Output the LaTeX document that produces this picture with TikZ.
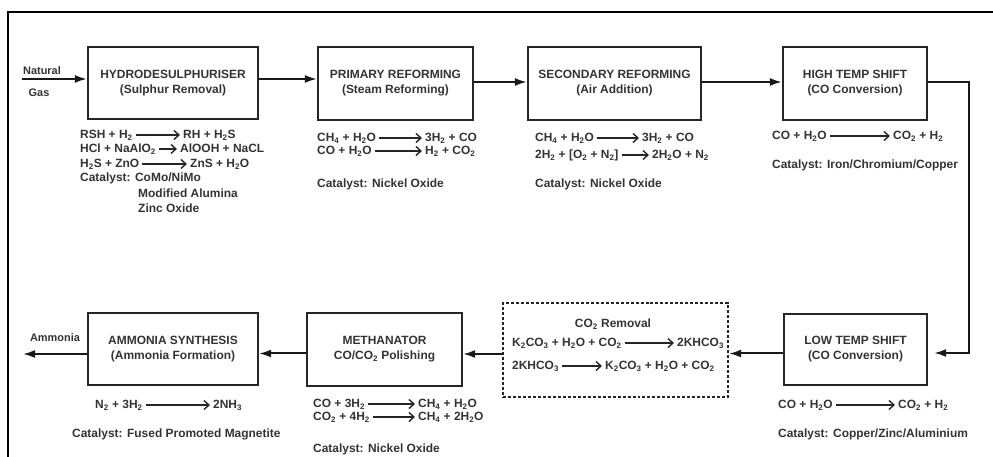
\documentclass[tikz,border=0pt]{standalone}
\usepackage{fontspec}
\setmainfont{Liberation Sans}
\usetikzlibrary{arrows.meta}
\newcommand\sub[1]{\textsubscript{#1}}
\newcommand\myrxn[6]{%
  \node[txt] (#1r) at (#2,#4) {#5};
  \node[txt] (#1p) at (#3,#4) {#6};
  \draw[eqarr] (#1r) -- (#1p);
}
\begin{document}
\begin{tikzpicture}[x=1bp,y=-1bp,
  every node/.style={font=\fontsize{12}{15}\selectfont\bfseries, text=black!80},
  proc/.style={draw=black!85, line width=2.2bp, inner sep=0pt, align=center},
  conn/.style={line width=2bp, draw=black!90, -{Latex[length=12bp,width=8bp]}},
  txt/.style={anchor=west, inner sep=0pt, text height=9bp, text depth=2.5bp},
  eqarr/.style={line width=1.4bp, draw=black!85, -{Straight Barb[length=5bp,width=9bp]}, shorten <=3bp, shorten >=3bp},
  lbl/.style={inner sep=0pt, font=\fontsize{11}{13}\selectfont\bfseries}
]
\useasboundingbox (0,0) rectangle (993,457);
\draw[line width=1.6bp] (8,457) -- (8,12) -- (993,12);

% process boxes
\node[proc, minimum width=170bp, minimum height=72bp] (hds) at (173,83) {HYDRODESULPHURISER\\(Sulphur Removal)};
\node[proc, minimum width=155bp, minimum height=73bp] (prim) at (395.5,83.5) {PRIMARY REFORMING\\(Steam Reforming)};
\node[proc, minimum width=173bp, minimum height=73bp] (sec) at (614.5,83.5) {SECONDARY REFORMING\\(Air Addition)};
\node[proc, minimum width=144bp, minimum height=73bp] (hts) at (855,83.5) {HIGH TEMP SHIFT\\(CO Conversion)};
\node[proc, minimum width=143bp, minimum height=71bp] (lts) at (855.5,349.5) {LOW TEMP SHIFT\\(CO Conversion)};
\node[proc, densely dashed, minimum width=225bp, minimum height=94bp] (co2) at (615.5,350) {};
\node[proc, minimum width=155bp, minimum height=73bp] (meth) at (384.5,349.5) {METHANATOR\\CO/CO\sub{2} Polishing};
\node[proc, minimum width=170bp, minimum height=72bp] (amm) at (173,349) {AMMONIA SYNTHESIS\\(Ammonia Formation)};

% connectors
\coordinate (ngin) at (22,79);
\node[lbl] (natural) at (42,71) {Natural};
\node[lbl] (gas) at (39,93) {Gas};
\draw[conn] (ngin) -- (ngin -| hds.west);
\draw[conn] ([yshift=4bp]hds.east) -- ([yshift=4bp]hds.east -| prim.west);
\draw[conn] ([yshift=1.5bp]prim.east) -- ([yshift=1.5bp]prim.east -| sec.west);
\draw[conn] ([yshift=1.5bp]sec.east) -- ([yshift=1.5bp]sec.east -| hts.west);
\coordinate (rt) at (969,0);
\draw[conn, shorten >=6bp] ([yshift=1.5bp]hts.east) -| ([yshift=-3.5bp]lts.east -| rt) -- ([yshift=-3.5bp]lts.east);
\draw[conn] ([yshift=-4bp]lts.west) -- ([yshift=-4bp]lts.west -| co2.east);
\draw[conn] ([yshift=-4bp]co2.west) -- ([yshift=-4bp]co2.west -| meth.east);
\draw[conn] ([yshift=-4bp]meth.west) -- ([yshift=-4bp]meth.west -| amm.east);
\coordinate (ammout) at (23,354);
\node[lbl] (ammonia) at (55,338) {Ammonia};
\draw[conn] (amm.west |- ammout) -- (ammout);

% hydrodesulphuriser
\myrxn{ha}{80}{183}{135}{RSH + H\sub{2}}{RH + H\sub{2}S}
\myrxn{hb}{80}{180}{149}{HCl + NaAlO\sub{2}}{AlOOH + NaCL}
\myrxn{hc}{80}{190}{164}{H\sub{2}S + ZnO}{ZnS + H\sub{2}O}
\node[txt] (hcat1) at (80,178) {Catalyst: CoMo/NiMo};
\node[txt] (hcat2) at (138,194) {Modified Alumina};
\node[txt] (hcat3) at (138,209) {Zinc Oxide};

% primary reforming
\myrxn{pa}{317}{425}{138}{CH\sub{4} + H\sub{2}O}{3H\sub{2} + CO}
\myrxn{pb}{317}{425}{151}{CO + H\sub{2}O}{H\sub{2} + CO\sub{2}}
\node[txt] (pcat) at (317,184) {Catalyst: Nickel Oxide};

% secondary reforming
\myrxn{sa}{535}{642}{138}{CH\sub{4} + H\sub{2}O}{3H\sub{2} + CO}
\myrxn{sb}{535}{652}{155}{2H\sub{2} + [O\sub{2} + N\sub{2}]}{2H\sub{2}O + N\sub{2}}
\node[txt] (scat) at (535,184) {Catalyst: Nickel Oxide};

% high temp shift
\myrxn{ta}{772}{893}{136}{CO + H\sub{2}O}{CO\sub{2} + H\sub{2}}
\node[txt] (tcat) at (772,165) {Catalyst: Iron/Chromium/Copper};

% low temp shift
\myrxn{la}{778}{898}{405}{CO + H\sub{2}O}{CO\sub{2} + H\sub{2}}
\node[txt] (lcat) at (778,434) {Catalyst: Copper/Zinc/Aluminium};

% CO2 removal
\node[inner sep=0pt] (co2t) at (613,324) {CO\sub{2} Removal};
\myrxn{ca}{512}{677}{343}{K\sub{2}CO\sub{3} + H\sub{2}O + CO\sub{2}}{2KHCO\sub{3}}
\myrxn{cb}{512}{605}{366}{2KHCO\sub{3}}{K\sub{2}CO\sub{3} + H\sub{2}O + CO\sub{2}}

% methanator
\myrxn{ma}{313}{418}{404}{CO + 3H\sub{2}}{CH\sub{4} + H\sub{2}O}
\myrxn{mb}{313}{418}{417}{CO\sub{2} + 4H\sub{2}}{CH\sub{4} + 2H\sub{2}O}
\node[txt] (mcat) at (313,449) {Catalyst: Nickel Oxide};

% ammonia synthesis
\myrxn{aa}{95}{213}{405}{N\sub{2} + 3H\sub{2}}{2NH\sub{3}}
\node[txt] (acat) at (72,434) {Catalyst: Fused Promoted Magnetite};
\end{tikzpicture}
\end{document}
